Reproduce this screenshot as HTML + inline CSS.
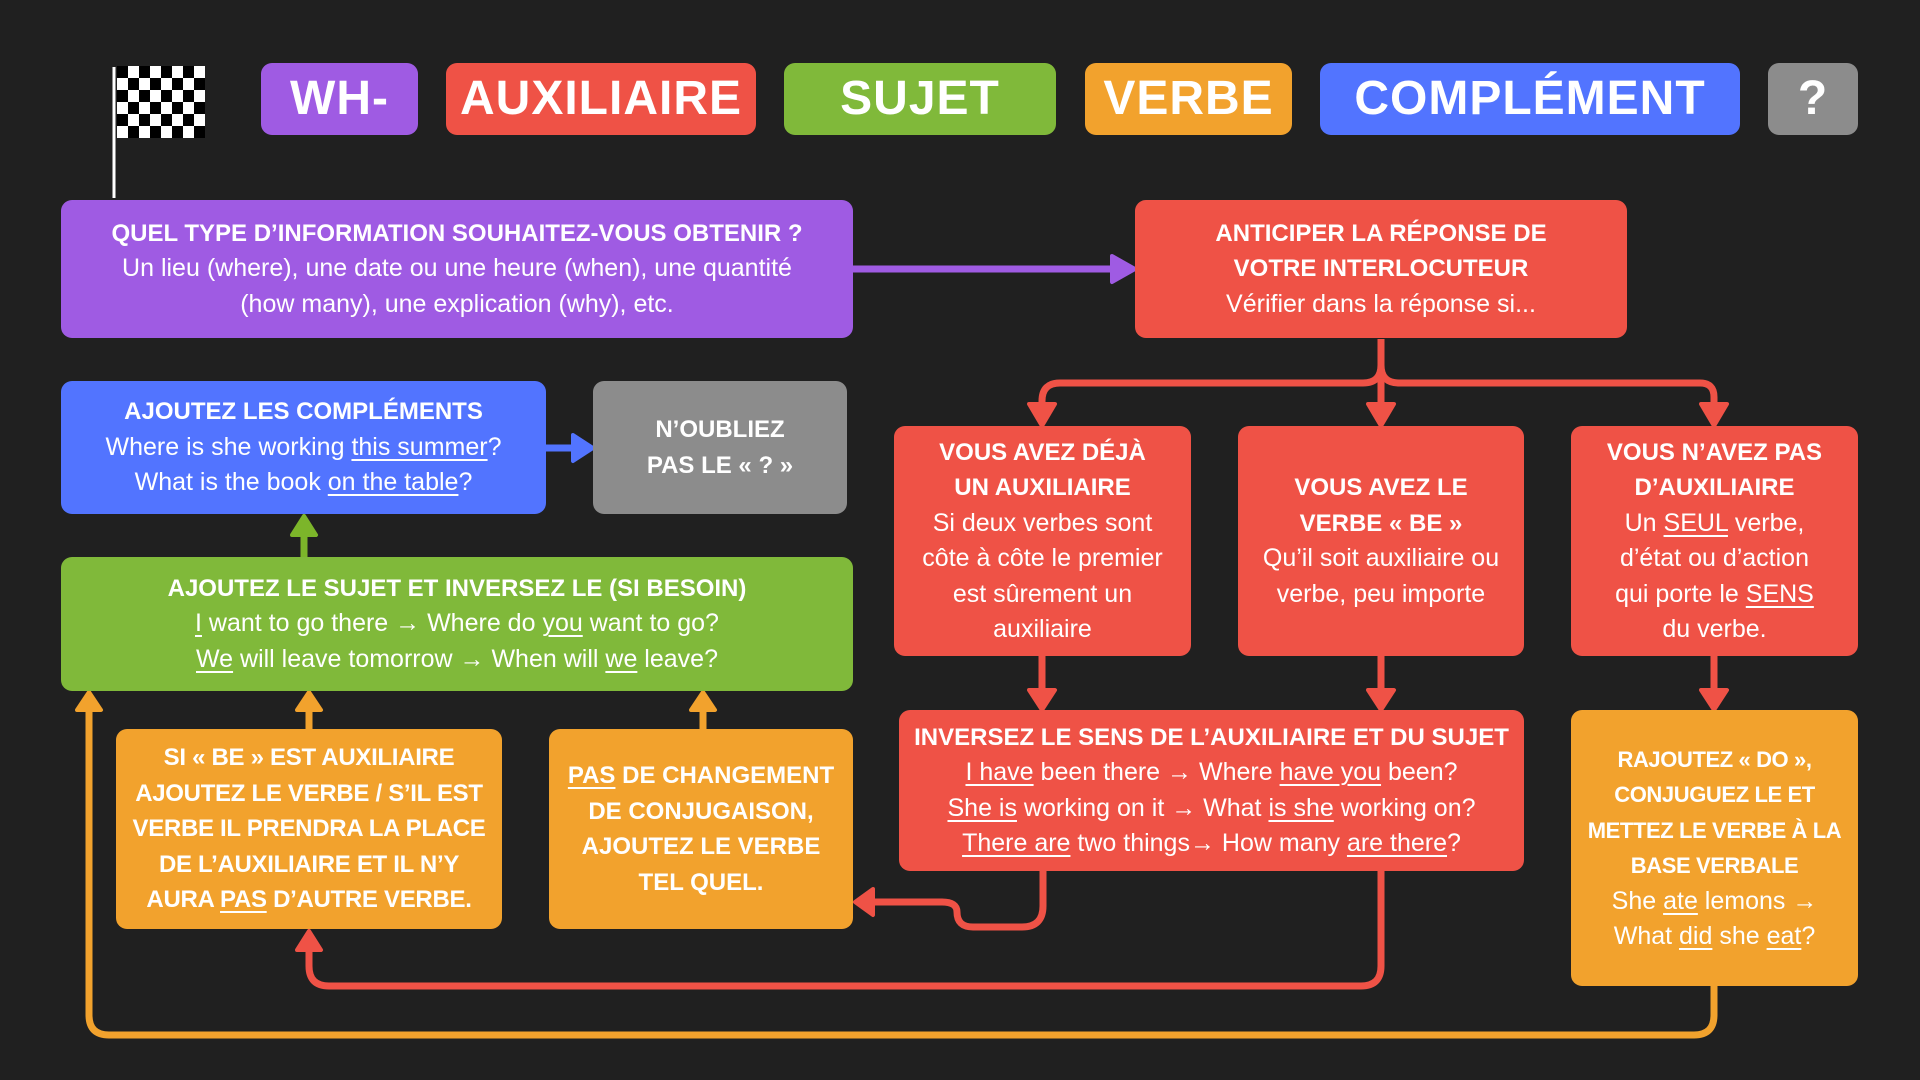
<!DOCTYPE html>
<html><head><meta charset="utf-8"><style>
*{margin:0;padding:0;box-sizing:border-box}
body{width:1920px;height:1080px;background:#202020;position:relative;overflow:hidden;font-family:"Liberation Sans",sans-serif;color:#fff}
.b{position:absolute;border-radius:11px;display:flex;flex-direction:column;justify-content:center;align-items:center;text-align:center;font-size:25px;line-height:35.5px}
.h{font-weight:bold;font-size:48px;letter-spacing:1px}
.t{font-weight:bold;font-size:24px}
u{text-decoration-thickness:2px;text-underline-offset:4px}
.pu{background:#9F5BE3}.re{background:#EF5246}.gr{background:#80B93A}.or{background:#F2A22D}.bl{background:#5274FF}.gy{background:#8C8C8C}
svg{position:absolute;left:0;top:0}
</style></head><body>
<svg width="1920" height="1080">
<line x1="114" y1="67" x2="114" y2="198" stroke="#fff" stroke-width="3"/>
<g transform="translate(117,66)">
<rect width="88" height="72" fill="#fff"/>
<g fill="#000">
<rect x="0" y="0" width="11" height="12"/><rect x="22" y="0" width="11" height="12"/><rect x="44" y="0" width="11" height="12"/><rect x="66" y="0" width="11" height="12"/>
<rect x="11" y="12" width="11" height="12"/><rect x="33" y="12" width="11" height="12"/><rect x="55" y="12" width="11" height="12"/><rect x="77" y="12" width="11" height="12"/>
<rect x="0" y="24" width="11" height="12"/><rect x="22" y="24" width="11" height="12"/><rect x="44" y="24" width="11" height="12"/><rect x="66" y="24" width="11" height="12"/>
<rect x="11" y="36" width="11" height="12"/><rect x="33" y="36" width="11" height="12"/><rect x="55" y="36" width="11" height="12"/><rect x="77" y="36" width="11" height="12"/>
<rect x="0" y="48" width="11" height="12"/><rect x="22" y="48" width="11" height="12"/><rect x="44" y="48" width="11" height="12"/><rect x="66" y="48" width="11" height="12"/>
<rect x="11" y="60" width="11" height="12"/><rect x="33" y="60" width="11" height="12"/><rect x="55" y="60" width="11" height="12"/><rect x="77" y="60" width="11" height="12"/>
</g></g>
<g fill="none" stroke-width="7" stroke-linejoin="round">
<line x1="853" y1="269" x2="1115" y2="269" stroke="#9F5BE3"/>
<line x1="546" y1="448" x2="575" y2="448" stroke="#5274FF"/>
<line x1="304" y1="557" x2="304" y2="535" stroke="#7CB52A"/>
<line x1="309" y1="729" x2="309" y2="710" stroke="#F2A22D"/>
<line x1="703" y1="729" x2="703" y2="710" stroke="#F2A22D"/>
<path d="M1714 986 V1015 Q1714 1035 1694 1035 H109 Q89 1035 89 1015 V710" stroke="#F2A22D"/>
<path d="M1381 339 V365 Q1381 383 1363 383 H1060 Q1042 383 1042 401 V406 M1381 365 V406 M1381 365 Q1381 383 1399 383 H1700 Q1714 383 1714 397 V406" stroke="#EF5246"/>
<line x1="1042" y1="656" x2="1042" y2="690" stroke="#EF5246"/>
<line x1="1381" y1="656" x2="1381" y2="690" stroke="#EF5246"/>
<line x1="1714" y1="656" x2="1714" y2="690" stroke="#EF5246"/>
<path d="M1381 871 V966 Q1381 986 1361 986 H329 Q309 986 309 966 V948" stroke="#EF5246"/>
<path d="M1043 871 V906 Q1043 927 1022 927 H973 Q957 927 957 912 Q957 902 942 902 H870" stroke="#EF5246"/>
</g>
<g stroke-linejoin="round" stroke-width="4">
<polygon points="1112,256 1135,269 1112,282" fill="#9F5BE3" stroke="#9F5BE3"/>
<polygon points="573,435 593,448 573,461" fill="#5274FF" stroke="#5274FF"/>
<polygon points="292,535 304,516 316,535" fill="#7CB52A" stroke="#7CB52A"/>
<polygon points="297,710 309,692 321,710" fill="#F2A22D" stroke="#F2A22D"/>
<polygon points="691,710 703,692 715,710" fill="#F2A22D" stroke="#F2A22D"/>
<polygon points="77,710 89,692 101,710" fill="#F2A22D" stroke="#F2A22D"/>
<polygon points="1029,404 1042,426 1055,404" fill="#EF5246" stroke="#EF5246"/>
<polygon points="1368,404 1381,426 1394,404" fill="#EF5246" stroke="#EF5246"/>
<polygon points="1701,404 1714,426 1727,404" fill="#EF5246" stroke="#EF5246"/>
<polygon points="1029,690 1042,710 1055,690" fill="#EF5246" stroke="#EF5246"/>
<polygon points="1368,690 1381,710 1394,690" fill="#EF5246" stroke="#EF5246"/>
<polygon points="1701,690 1714,710 1727,690" fill="#EF5246" stroke="#EF5246"/>
<polygon points="297,950 309,931 321,950" fill="#EF5246" stroke="#EF5246"/>
<polygon points="873,889 855,902 873,915" fill="#EF5246" stroke="#EF5246"/>
</g>
</svg>

<div class="b pu h" style="left:261px;top:63px;width:157px;height:72px">WH-</div>
<div class="b re h" style="left:446px;top:63px;width:310px;height:72px">AUXILIAIRE</div>
<div class="b gr h" style="left:784px;top:63px;width:272px;height:72px">SUJET</div>
<div class="b or h" style="left:1085px;top:63px;width:207px;height:72px">VERBE</div>
<div class="b bl h" style="left:1320px;top:63px;width:420px;height:72px">COMPLÉMENT</div>
<div class="b gy h" style="left:1768px;top:63px;width:90px;height:72px">?</div>

<div class="b pu" style="left:61px;top:200px;width:792px;height:138px"><div class="t">QUEL TYPE D’INFORMATION SOUHAITEZ-VOUS OBTENIR ?</div><div>Un lieu (where), une date ou une heure (when), une quantité<br>(how many), une explication (why), etc.</div></div>
<div class="b re" style="left:1135px;top:200px;width:492px;height:138px"><div class="t">ANTICIPER LA RÉPONSE DE<br>VOTRE INTERLOCUTEUR</div><div>Vérifier dans la réponse si...</div></div>

<div class="b bl" style="left:61px;top:381px;width:485px;height:133px"><div class="t">AJOUTEZ LES COMPLÉMENTS</div><div>Where is she working <u>this summer</u>?<br>What is the book <u>on the table</u>?</div></div>
<div class="b gy t" style="left:593px;top:381px;width:254px;height:133px"><div>N’OUBLIEZ<br>PAS LE « ? »</div></div>

<div class="b gr" style="left:61px;top:557px;width:792px;height:134px"><div class="t">AJOUTEZ LE SUJET ET INVERSEZ LE (SI BESOIN)</div><div><u>I</u> want to go there → Where do <u>you</u> want to go?<br><u>We</u> will leave tomorrow → When will <u>we</u> leave?</div></div>

<div class="b or" style="left:116px;top:729px;width:386px;height:200px"><div class="t" style="letter-spacing:-0.3px">SI « BE » EST AUXILIAIRE<br>AJOUTEZ LE VERBE / S’IL EST<br>VERBE IL PRENDRA LA PLACE<br>DE L’AUXILIAIRE ET IL N’Y<br>AURA <u>PAS</u> D’AUTRE VERBE.</div></div>
<div class="b or" style="left:549px;top:729px;width:304px;height:200px"><div class="t"><u>PAS</u> DE CHANGEMENT<br>DE CONJUGAISON,<br>AJOUTEZ LE VERBE<br>TEL QUEL.</div></div>

<div class="b re" style="left:894px;top:426px;width:297px;height:230px"><div class="t">VOUS AVEZ DÉJÀ<br>UN AUXILIAIRE</div><div>Si deux verbes sont<br>côte à côte le premier<br>est sûrement un<br>auxiliaire</div></div>
<div class="b re" style="left:1238px;top:426px;width:286px;height:230px"><div class="t">VOUS AVEZ LE<br>VERBE « BE »</div><div>Qu’il soit auxiliaire ou<br>verbe, peu importe</div></div>
<div class="b re" style="left:1571px;top:426px;width:287px;height:230px"><div class="t">VOUS N’AVEZ PAS<br>D’AUXILIAIRE</div><div>Un <u>SEUL</u> verbe,<br>d’état ou d’action<br>qui porte le <u>SENS</u><br>du verbe.</div></div>

<div class="b re" style="left:899px;top:710px;width:625px;height:161px"><div class="t">INVERSEZ LE SENS DE L’AUXILIAIRE ET DU SUJET</div><div><u>I have</u> been there → Where <u>have you</u> been?<br><u>She is</u> working on it → What <u>is she</u> working on?<br><u>There are</u> two things→ How many <u>are there</u>?</div></div>
<div class="b or" style="left:1571px;top:710px;width:287px;height:276px"><div class="t" style="font-size:22px;letter-spacing:-0.4px">RAJOUTEZ « DO »,<br>CONJUGUEZ LE ET<br>METTEZ LE VERBE À LA<br>BASE VERBALE</div><div>She <u>ate</u> lemons →<br>What <u>did</u> she <u>eat</u>?</div></div>
</body></html>
